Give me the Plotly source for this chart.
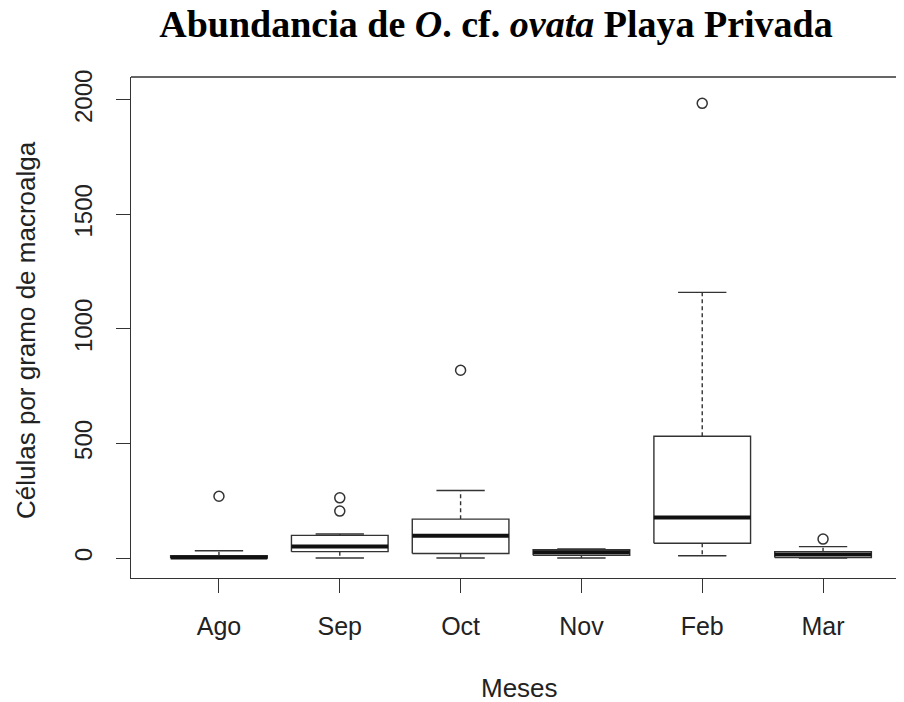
import plotly.graph_objects as go

# Resumen de cajas por mes
months = ["Ago", "Sep", "Oct", "Nov", "Feb", "Mar"]
lower_whisker = [0, 0, 0, 0, 10, 0]
q1 = [0, 28, 20, 12, 65, 2]
median = [3, 50, 97, 25, 177, 16]
q3 = [10, 99, 170, 36, 532, 28]
upper_whisker = [32, 105, 295, 40, 1160, 50]
outliers = [[270], [205, 263], [820], [], [1985], [83]]

y_ticks = [0, 500, 1000, 1500, 2000]

BOX_HALF = 0.4
CAP_HALF = 0.2
LINE = "#333333"
TEXT = "#222222"

# la página tiene un margen de 8 px alrededor de la figura
OFF = 8
W, H = 904 - OFF, 702 - OFF

pos = list(range(len(months)))

box_x, box_y = [], []
med_x, med_y = [], []
wh_x, wh_y = [], []
cap_x, cap_y = [], []
out_x, out_y = [], []
for i in pos:
    box_x += [i - BOX_HALF, i + BOX_HALF, i + BOX_HALF, i - BOX_HALF, i - BOX_HALF, None]
    box_y += [q1[i], q1[i], q3[i], q3[i], q1[i], None]
    med_x += [i - BOX_HALF, i + BOX_HALF, None]
    med_y += [median[i], median[i], None]
    wh_x += [i, i, None, i, i, None]
    wh_y += [q3[i], upper_whisker[i], None, q1[i], lower_whisker[i], None]
    cap_x += [i - CAP_HALF, i + CAP_HALF, None, i - CAP_HALF, i + CAP_HALF, None]
    cap_y += [upper_whisker[i], upper_whisker[i], None, lower_whisker[i], lower_whisker[i], None]
    for v in outliers[i]:
        out_x.append(i)
        out_y.append(v)

fig = go.Figure()

# bigotes punteados
fig.add_trace(go.Scatter(x=wh_x, y=wh_y, mode="lines",
                         line=dict(color=LINE, width=1.4, dash="4px,3px"), hoverinfo="skip"))
# extremos de los bigotes
fig.add_trace(go.Scatter(x=cap_x, y=cap_y, mode="lines",
                         line=dict(color=LINE, width=1.4), hoverinfo="skip"))
# cajas
fig.add_trace(go.Scatter(x=box_x, y=box_y, mode="lines", fill="toself", fillcolor="white",
                         line=dict(color=LINE, width=1.4), hoverinfo="skip"))
# medianas
fig.add_trace(go.Scatter(x=med_x, y=med_y, mode="lines",
                         line=dict(color="#111111", width=4), hoverinfo="skip"))
# valores atípicos
fig.add_trace(go.Scatter(x=out_x, y=out_y, mode="markers",
                         marker=dict(symbol="circle-open", size=10, color=LINE,
                                     line=dict(width=1.5, color=LINE))))

fig.update_layout(
    width=W, height=H,
    margin=dict(l=131 - OFF, r=0, t=77 - OFF, b=124),
    paper_bgcolor="white", plot_bgcolor="white",
    showlegend=False,
    font=dict(family="Liberation Sans, Arial", color=TEXT),
    title=dict(
        text="<b>Abundancia de <i>O</i>. cf. <i>ovata</i> Playa Privada</b>",
        font=dict(family="Liberation Serif, Times New Roman", size=38, color="black"),
        xref="container", x=(496 - OFF) / W, xanchor="center",
        yref="container", y=1 - (24 - OFF) / H, yanchor="middle",
    ),
    xaxis=dict(
        range=[-0.728, 5.67], tickvals=pos, ticktext=months,
        showgrid=False, zeroline=False, showline=True, linecolor=LINE, linewidth=1.4,
        ticks="outside", ticklen=14, tickwidth=1.4, tickcolor=LINE,
        tickfont=dict(size=25, color=TEXT), ticklabelstandoff=12,
    ),
    yaxis=dict(
        range=[-87, 2100], tickvals=y_ticks, tickangle=-90,
        showgrid=False, zeroline=False, showline=True, linecolor=LINE, linewidth=1.4,
        ticks="outside", ticklen=14, tickwidth=1.4, tickcolor=LINE,
        tickfont=dict(size=24, color=TEXT), ticklabelstandoff=14,
    ),
    shapes=[dict(type="line", xref="paper", yref="paper", x0=0, x1=1, y0=1, y1=1,
                 line=dict(color=LINE, width=1.4))],
    annotations=[
        dict(text="Células por gramo de macroalga", textangle=-90,
             xref="paper", yref="paper", x=(26 - 131) / 773, y=0.495,
             xanchor="center", yanchor="middle", showarrow=False,
             font=dict(size=26, color=TEXT)),
        dict(text="Meses", xref="paper", yref="paper", x=0.503, y=(578 - 688) / 501,
             xanchor="center", yanchor="middle", showarrow=False,
             font=dict(size=26, color=TEXT)),
    ],
)

fig.write_html("out.html")
